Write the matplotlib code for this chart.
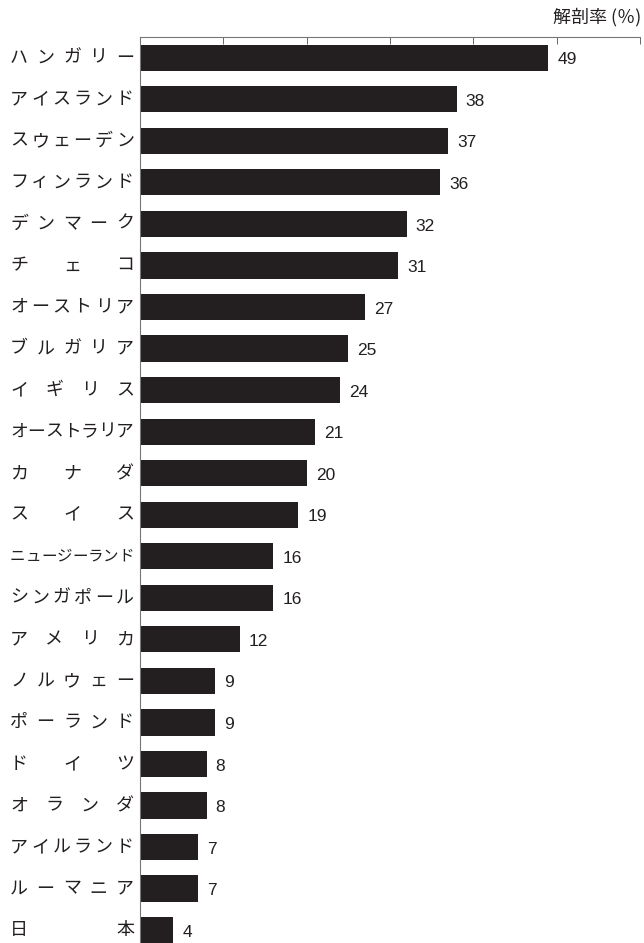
import matplotlib.pyplot as plt
import matplotlib.transforms as mtransforms

countries = ["ハンガリー", "アイスランド", "スウェーデン", "フィンランド", "デンマーク",
             "チェコ", "オーストリア", "ブルガリア", "イギリス", "オーストラリア",
             "カナダ", "スイス", "ニュージーランド", "シンガポール", "アメリカ",
             "ノルウェー", "ポーランド", "ドイツ", "オランダ", "アイルランド",
             "ルーマニア", "日本"]
rates = [49, 38, 37, 36, 32, 31, 27, 25, 24, 21, 20, 19, 16, 16, 12, 9, 9, 8, 8, 7, 7, 4]
xticks = [0, 10, 20, 30, 40, 50, 60]

W, H = 644, 943
fig = plt.figure(figsize=(W / 100, H / 100), dpi=100)
ax = fig.add_axes([140 / W, 0, 500 / W, 1 - 37 / H])

y = list(range(len(countries)))
ax.barh(y, rates, height=0.63, color="#231f20", zorder=2)

for yi, v in zip(y, rates):
    ax.annotate(str(v), (v, yi), xytext=(6.5, -1.5), textcoords="offset points",
                ha="left", va="center", fontsize=12.5, family="Liberation Sans",
                color="#231f20")

ax.set_xlim(0, 60)
ax.set_ylim(len(countries) - 1 + 0.31, -0.5)
ax.set_xticks(xticks)
ax.set_yticks([])
ax.xaxis.tick_top()
ax.tick_params(axis="x", direction="in", length=5, width=0.7, color="#666666",
               labeltop=False, labelbottom=False)
for s in ["right", "bottom"]:
    ax.spines[s].set_visible(False)
for s in ["top", "left"]:
    ax.spines[s].set_color("#777777")
    ax.spines[s].set_linewidth(0.8)

# country labels spread evenly over a fixed width (Japanese justified style)
trans = mtransforms.blended_transform_factory(fig.transFigure, ax.transData)
x0, x1 = 10, 134
span = x1 - x0
base_cw = 18.0
for yi, name in zip(y, countries):
    n = len(name)
    cw = min(base_cw, span / n)
    fs = cw * 72 / 100
    for i, ch in enumerate(name):
        cx = x0 + cw / 2 + i * (span - cw) / (n - 1)
        fig.text(cx / W, yi, ch, transform=trans, ha="center", va="center",
                 fontsize=fs, family=["Noto Sans CJK JP", "DejaVu Sans"],
                 color="#231f20")

fig.text(641 / W, 1 - 17 / H, "解剖率 (％)", ha="right", va="center", fontsize=13,
         family=["Noto Sans CJK JP", "DejaVu Sans"], color="#231f20")

fig.savefig("out.png", dpi=100)
